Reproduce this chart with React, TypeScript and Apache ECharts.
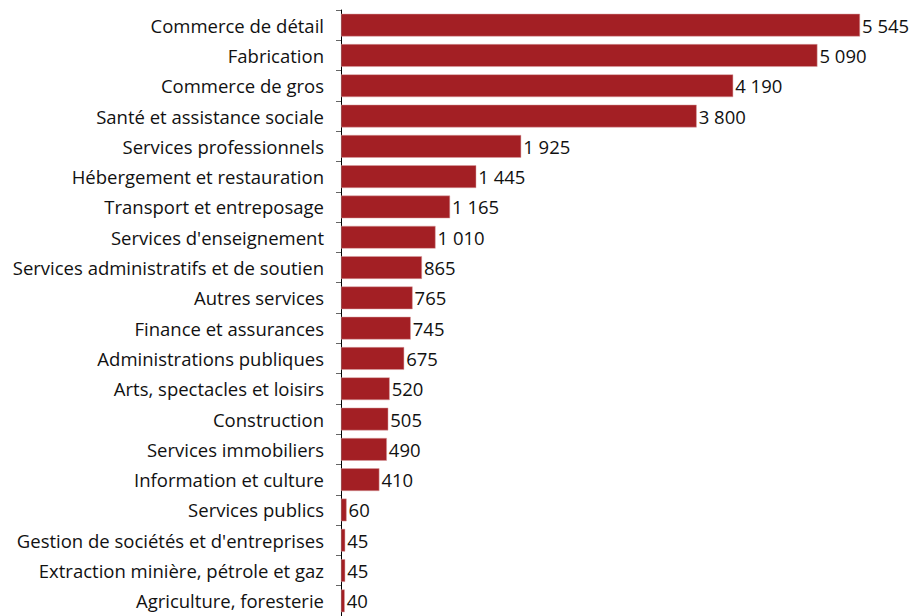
import React, { useEffect, useRef } from "react";
import * as echarts from "echarts";

const categories = [
  "Commerce de détail",
  "Fabrication",
  "Commerce de gros",
  "Santé et assistance sociale",
  "Services professionnels",
  "Hébergement et restauration",
  "Transport et entreposage",
  "Services d'enseignement",
  "Services administratifs et de soutien",
  "Autres services",
  "Finance et assurances",
  "Administrations publiques",
  "Arts, spectacles et loisirs",
  "Construction",
  "Services immobiliers",
  "Information et culture",
  "Services publics",
  "Gestion de sociétés et d'entreprises",
  "Extraction minière, pétrole et gaz",
  "Agriculture, foresterie",
];

const values = [5545, 5090, 4190, 3800, 1925, 1445, 1165, 1010, 865, 765, 745, 675, 520, 505, 490, 410, 60, 45, 45, 40];

const fmt = (v: number) => String(v).replace(/\B(?=(\d{3})+(?!\d))/g, " ");

const FONT = "'Open Sans', sans-serif";

export default function App() {
  const ref = useRef<HTMLDivElement>(null);
  useEffect(() => {
    const chart = echarts.init(ref.current!, null, { renderer: "svg" });
    chart.setOption({
      animation: false,
      grid: { left: 341, top: 10, width: 561.6, height: 612, containLabel: false },
      xAxis: {
        type: "value",
        min: 0,
        max: 6000,
        show: false,
      },
      yAxis: {
        type: "category",
        inverse: true,
        data: categories,
        axisLine: { show: true, lineStyle: { color: "#000", width: 1 } },
        axisTick: { show: true, length: 5, lineStyle: { color: "#666" } },
        axisLabel: {
          margin: 17,
          fontFamily: FONT,
          fontSize: 18.5,
          color: "#111",
        },
        splitLine: { show: false },
      },
      series: [
        {
          type: "bar",
          data: values,
          barCategoryGap: "25%",
          itemStyle: { color: "#A31F24", borderColor: "#D9A0A2", borderWidth: 0.5 },
          label: {
            show: true,
            position: "right",
            distance: 2,
            formatter: (p: any) => fmt(p.value),
            fontFamily: FONT,
            fontSize: 18.5,
            color: "#111",
          },
        },
      ],
    });
    return () => chart.dispose();
  }, []);
  return (
    <div
      ref={ref}
      style={{ position: "fixed", left: 0, top: 0, width: 911, height: 616, background: "#fff" }}
    />
  );
}
